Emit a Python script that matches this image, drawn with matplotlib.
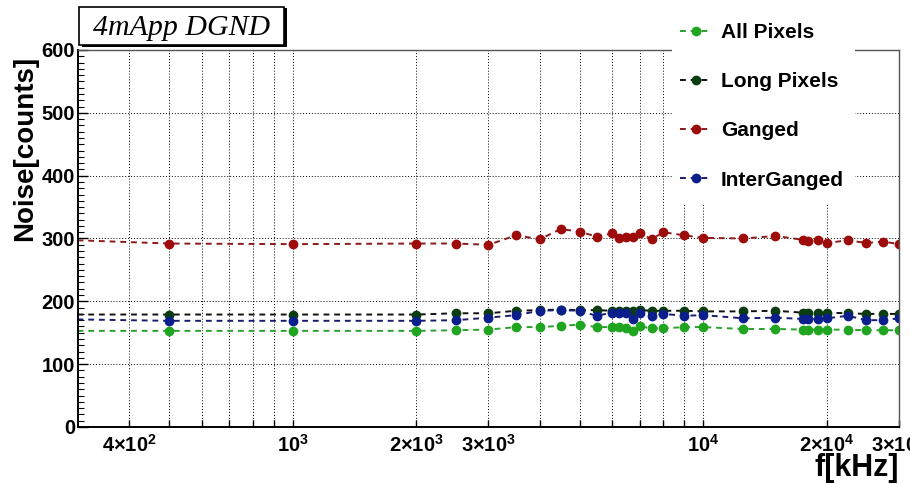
import numpy as np
import matplotlib
matplotlib.use('Agg')
import matplotlib.pyplot as plt
from matplotlib.patches import Rectangle
from matplotlib.ticker import FixedLocator, FixedFormatter, MultipleLocator

plt.rcParams['font.family'] = ['Liberation Sans', 'DejaVu Sans']
plt.rcParams['mathtext.fontset'] = 'custom'
plt.rcParams['mathtext.rm'] = 'Liberation Sans:bold'
plt.rcParams['mathtext.bf'] = 'Liberation Sans:bold'

# frequency points [kHz]
freq = [250, 500, 1000, 2000, 2500, 3000, 3500, 4000, 4500, 5000, 5500, 6000, 6250,
        6500, 6750, 7000, 7500, 8000, 9000, 10000, 12500, 15000, 17500, 18000,
        19000, 20000, 22500, 25000, 27500, 30000]

# noise [counts]
all_pixels = [153, 153, 153, 153, 154, 155, 159, 159, 161, 163, 159, 159, 159,
              157, 152, 160, 157, 157, 159, 159, 156, 156, 155, 155,
              155, 155, 155, 154, 154, 154]
long_pixels = [179, 179, 179, 179, 181, 181, 185, 186, 187, 186, 186, 185, 184,
               184, 184, 186, 185, 185, 185, 184, 184, 185, 182, 182,
               182, 182, 181, 180, 180, 180]
ganged = [299, 292, 291, 292, 292, 290, 305, 299, 315, 311, 303, 308, 301,
          303, 303, 308, 299, 310, 305, 301, 300, 304, 298, 296,
          298, 293, 297, 293, 295, 291]
inter_ganged = [172, 169, 169, 169, 170, 174, 178, 185, 186, 185, 177, 182, 181,
                182, 172, 182, 177, 180, 177, 178, 173, 174, 172, 172,
                172, 173, 177, 170, 170, 173]

series = [
    ('All Pixels', all_pixels, '#2ca02c', '#1fa51f'),
    ('Long Pixels', long_pixels, '#111111', '#0b3d10'),
    ('Ganged', ganged, '#8b1a1a', '#9e0b0b'),
    ('InterGanged', inter_ganged, '#1a1a6e', '#0a1e8c'),
]

grid_x = [400, 500, 600, 700, 800, 900, 1000, 2000, 3000, 4000, 5000, 6000,
          7000, 8000, 9000, 10000, 20000]
xlabels = {400: r'$4{\times}10^{2}$', 1000: r'$10^{3}$', 2000: r'$2{\times}10^{3}$',
           3000: r'$3{\times}10^{3}$', 10000: r'$10^{4}$', 20000: r'$2{\times}10^{4}$',
           30000: r'$3{\times}10^{4}$'}

W, H = 910, 484
fig = plt.figure(figsize=(W / 100, H / 100), dpi=100)
ax = fig.add_axes([78 / W, 1 - 427 / H, (899 - 78) / W, (427 - 50) / H])

handles = []
for name, vals, lc, mc in series:
    h, = ax.plot(freq, vals, linestyle=(0, (3, 2.5)), color=lc, lw=1.4,
                 marker='o', ms=6, mfc=mc, mec=mc, label=name)
    handles.append(h)

ax.set_xscale('log')
ax.set_xlim(300, 30000)
ax.set_ylim(0, 600)

ticks = grid_x + [30000]
ax.xaxis.set_major_locator(FixedLocator(ticks))
ax.xaxis.set_major_formatter(FixedFormatter([xlabels.get(t, '') for t in ticks]))
ax.xaxis.set_minor_locator(FixedLocator([]))
ax.yaxis.set_major_locator(MultipleLocator(100))
ax.yaxis.set_minor_locator(MultipleLocator(10))

ax.tick_params(axis='x', which='major', direction='in', length=5, width=1,
               labelsize=14.5, pad=5)
ax.tick_params(axis='y', which='major', direction='in', length=7, width=1,
               labelsize=14.5, pad=2)
ax.tick_params(axis='y', which='minor', direction='in', length=4, width=0.8)
for lbl in ax.get_yticklabels():
    lbl.set_fontweight('bold')

ax.grid(True, which='major', linestyle=(0, (1, 2)), color='black', lw=0.7)
for s in ['left', 'bottom']:
    ax.spines[s].set_linewidth(1.4)
for s in ['top', 'right']:
    ax.spines[s].set_color('#555555')
    ax.spines[s].set_linewidth(1.0)

fig.text(25 / W, 1 - 56 / H, 'Noise[counts]', rotation=90, ha='center', va='top',
         fontsize=20, fontweight='bold')
fig.text(899 / W, 1 - 468 / H, 'f[kHz]', ha='right', va='center',
         fontsize=22, fontweight='bold')

# title box with shadow
fig.patches.append(Rectangle((82 / W, 1 - 47 / H), 205 / W, 39 / H, transform=fig.transFigure,
                             facecolor='black', edgecolor='none', zorder=5))
fig.patches.append(Rectangle((79 / W, 1 - 45 / H), 205 / W, 38 / H, transform=fig.transFigure,
                             facecolor='white', edgecolor='black', lw=1.2, zorder=6))
fig.text(182 / W, 1 - 28 / H, '4mApp DGND', ha='center', va='center',
         fontsize=21.5, family='Liberation Serif', style='italic', zorder=7)

# legend area (covers frame)
fig.patches.append(Rectangle((672 / W, 1 - 205 / H), 183 / W, 205 / H, transform=fig.transFigure,
                             facecolor='white', edgecolor='none', zorder=5))
leg = fig.legend(handles=handles, loc='upper left', bbox_to_anchor=(680 / W, 1 - 23 / H),
                 bbox_transform=fig.transFigure, frameon=False, numpoints=1,
                 prop={'weight': 'bold', 'size': 15}, handlelength=1.55,
                 handletextpad=0.4, labelspacing=1.45, borderpad=0, borderaxespad=0)
leg.set_zorder(8)

fig.savefig('out.png', dpi=100)
